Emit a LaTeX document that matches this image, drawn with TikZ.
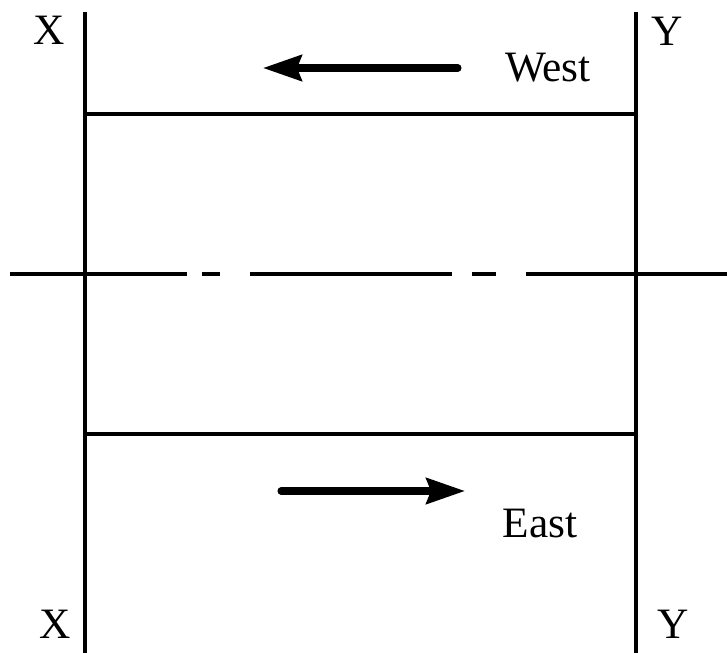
\documentclass[tikz,border=0pt]{standalone}
\usepackage{fontspec}
\setmainfont{Liberation Serif}
\usetikzlibrary{arrows.meta}
\tikzset{
  wallln/.style={line width=3.6pt},
  laneln/.style={line width=2.8pt},
  centreln/.style={line width=2.8pt,
    dash pattern=on 5.31cm off 0.45cm on 0.54cm off 0.9cm on 6.06cm off 0.6cm on 0.72cm off 0.9cm on 6.1cm},
  dirarrow/.style={-{Stealth[length=33pt,width=22pt,inset=4pt]}, line width=6pt, line cap=round},
  lbl/.style={font=\fontsize{37}{44}\selectfont, inner sep=0pt},
}

\begin{document}
\begin{tikzpicture}[x=0.03cm, y=-0.03cm]
    \useasboundingbox (0,0) rectangle (727,653);
    % walls X and Y
    \coordinate (xtop) at (85,12);
    \coordinate (xbot) at (85,653);
    \coordinate (ytop) at (636,12);
    \coordinate (ybot) at (636,653);
    \draw[wallln] (xtop) -- (xbot);
    \draw[wallln] (ytop) -- (ybot);
    \node[lbl] (xup) at (49,30) {X};
    \node[lbl] (yup) at (667,31) {Y};
    \node[lbl] (xdn) at (55,624) {X};
    \node[lbl] (ydn) at (673,624) {Y};
    % lanes
    \coordinate (nl) at (85,114);
    \coordinate (nr) at (636,114);
    \coordinate (sl) at (85,434);
    \coordinate (sr) at (636,434);
    \draw[laneln] (nl) -- (nr);
    \draw[laneln] (sl) -- (sr);
    \coordinate (cl) at (10,274);
    \coordinate (cr) at (727,274);
    \draw[centreln] (cl) -- (cr);
    % directions
    \coordinate (wtail) at (458,68);
    \coordinate (whead) at (263,68);
    \draw[dirarrow] (wtail) -- (whead);
    \node[lbl] (west) at (548,68) {West};
    \coordinate (etail) at (281,491);
    \coordinate (ehead) at (465,491);
    \draw[dirarrow] (etail) -- (ehead);
    \node[lbl] (east) at (540,524) {East};
\end{tikzpicture}
\end{document}
